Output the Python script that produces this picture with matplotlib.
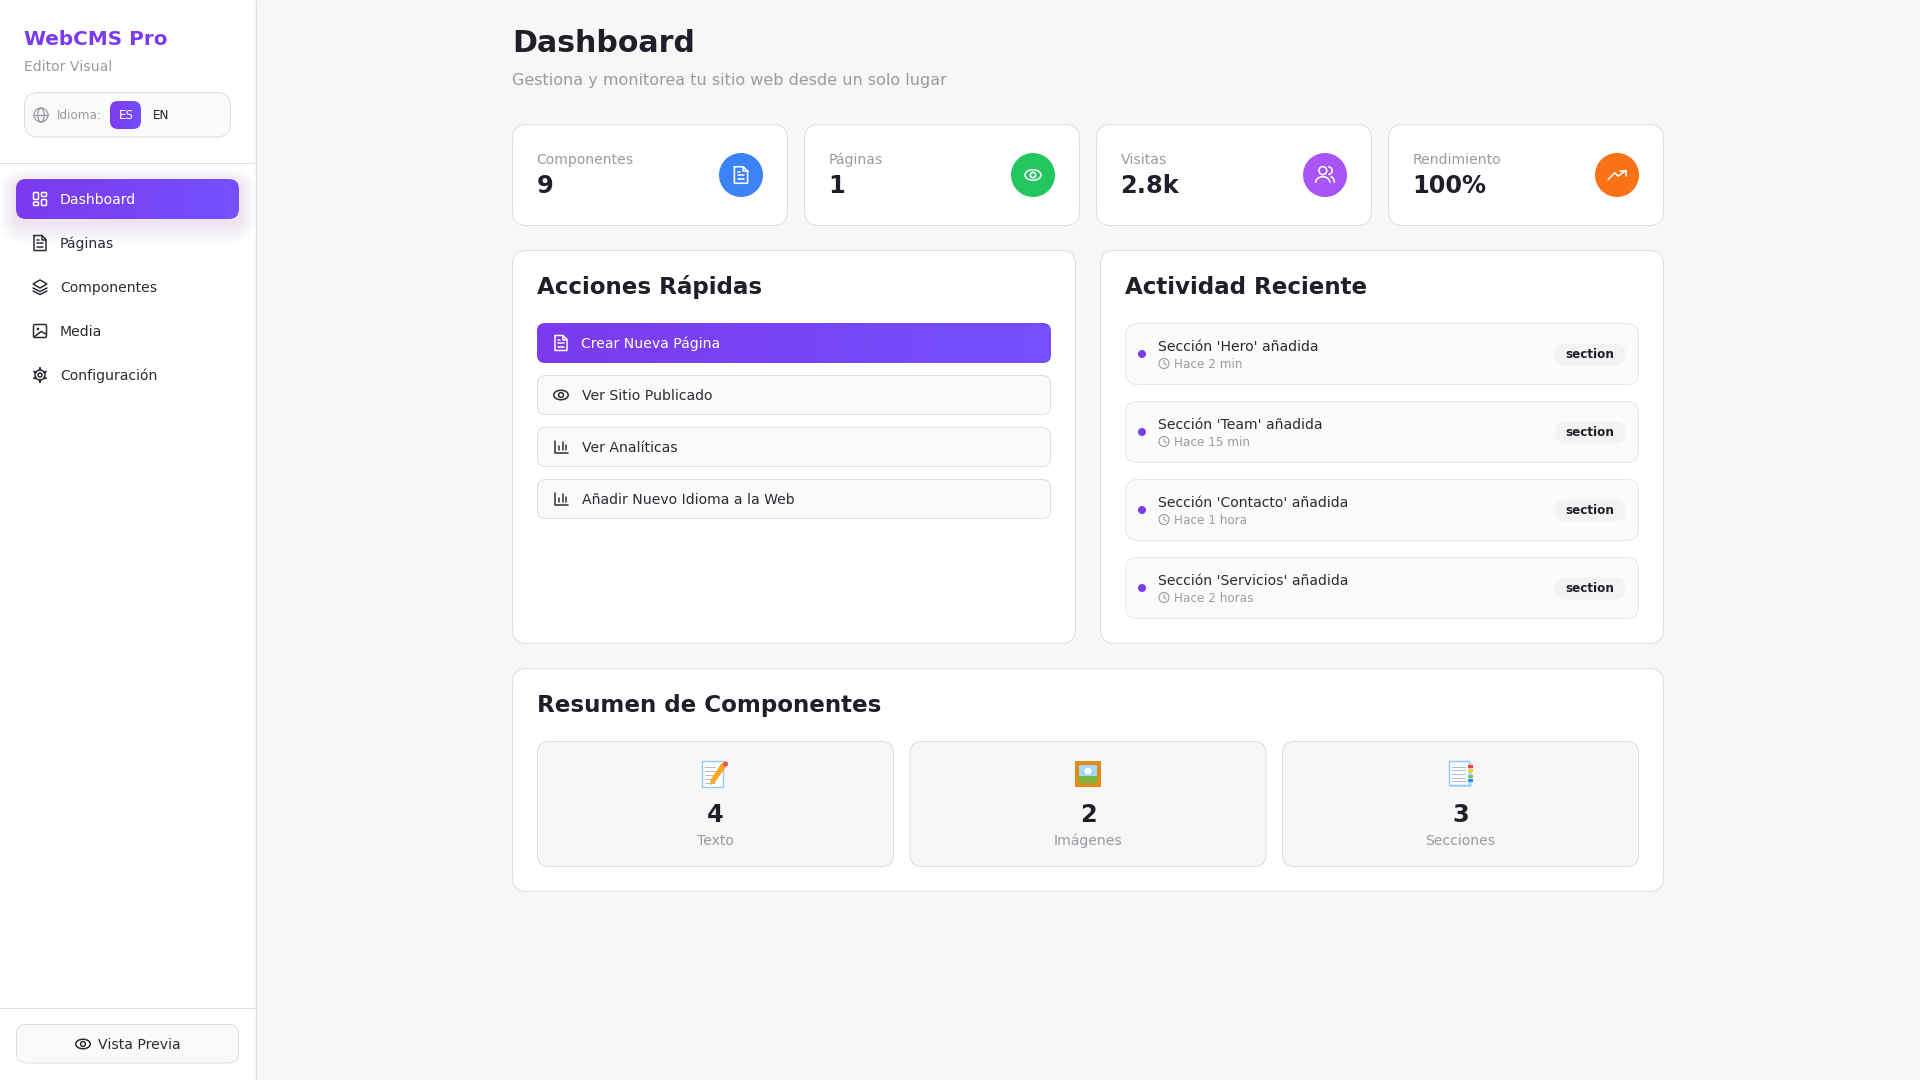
import numpy as np
from matplotlib import pyplot as plt
from matplotlib.patches import FancyBboxPatch, Circle, Ellipse, Rectangle, Polygon, Arc
from matplotlib.colors import LinearSegmentedColormap

# texts and values of the page
brand = 'WebCMS Pro'
brand_sub = 'Editor Visual'
nav_labels = ['Dashboard', 'Páginas', 'Componentes', 'Media', 'Configuración']
nav_icons = ['grid', 'doc', 'layers', 'image', 'gear']
stat_labels = ['Componentes', 'Páginas', 'Visitas', 'Rendimiento']
stat_values = ['9', '1', '2.8k', '100%']
stat_colors = ['#3b82f6', '#22c55e', '#a855f7', '#f97316']
stat_icons = ['doc', 'eye', 'users', 'trend']
action_labels = ['Crear Nueva Página', 'Ver Sitio Publicado', 'Ver Analíticas', 'Añadir Nuevo Idioma a la Web']
action_icons = ['doc', 'eye', 'bars', 'bars']
activity_titles = ["Sección 'Hero' añadida", "Sección 'Team' añadida", "Sección 'Contacto' añadida", "Sección 'Servicios' añadida"]
activity_times = ['Hace 2 min', 'Hace 15 min', 'Hace 1 hora', 'Hace 2 horas']
summary_values = ['4', '2', '3']
summary_labels = ['Texto', 'Imágenes', 'Secciones']

PURPLE = '#7c3aed'
DARK = '#1f1f29'
GREY = '#9a9aa3'
BORDER = '#dedee1'
PAGE = '#f7f7f8'

fig = plt.figure(figsize=(19.2, 10.8), dpi=100, facecolor=PAGE)
ax = fig.add_axes([0, 0, 1, 1])
ax.set_xlim(0, 1920)
ax.set_ylim(1080, 0)
ax.axis('off')

gradient = LinearSegmentedColormap.from_list('btn', ['#7c3aed', '#7350ff'])


def txt(x, y, s, px, color=DARK, weight='normal', ha='left', z=5):
    # y is the visual middle of the lowercase letters
    ax.text(x, y + 0.36 * px, s, fontsize=px * 0.72, color=color, fontweight=weight,
            ha=ha, va='baseline', family='DejaVu Sans', zorder=z)


def box(x0, y0, x1, y1, r, face='white', edge=BORDER, lw=1.0, z=1, alpha=None):
    p = FancyBboxPatch((x0, y0), x1 - x0, y1 - y0, boxstyle=f'round,pad=0,rounding_size={r}',
                       facecolor=face, edgecolor=edge, linewidth=lw * 0.72, zorder=z, alpha=alpha)
    ax.add_patch(p)
    return p


def grad_box(x0, y0, x1, y1, r, z=2):
    p = box(x0, y0, x1, y1, r, face='none', edge='none', lw=0, z=z)
    im = ax.imshow(np.linspace(0, 1, 256).reshape(1, -1), extent=(x0, x1, y1, y0), cmap=gradient,
                   aspect='auto', zorder=z)
    im.set_clip_path(p)
    ax.set_xlim(0, 1920)
    ax.set_ylim(1080, 0)


def seg(xs, ys, c, lw=1.5, z=6):
    ax.plot(xs, ys, color=c, linewidth=lw * 0.72, solid_capstyle='round', solid_joinstyle='round', zorder=z)


def icon(name, cx, cy, c, s=1.0, lw=1.5, z=6):
    # line icons, all about 16px wide at s=1
    if name == 'doc':
        seg([cx - 6 * s, cx + 2 * s, cx + 6 * s, cx + 6 * s, cx - 6 * s, cx - 6 * s],
            [cy - 7.5 * s, cy - 7.5 * s, cy - 3.5 * s, cy + 7.5 * s, cy + 7.5 * s, cy - 7.5 * s], c, lw, z)
        seg([cx + 2 * s, cx + 2 * s, cx + 6 * s], [cy - 7.5 * s, cy - 3.5 * s, cy - 3.5 * s], c, lw, z)
        seg([cx - 3 * s, cx + 3 * s], [cy, cy], c, lw, z)
        seg([cx - 3 * s, cx + 3 * s], [cy + 3.5 * s, cy + 3.5 * s], c, lw, z)
        seg([cx - 3 * s, cx - 1 * s], [cy - 3 * s, cy - 3 * s], c, lw, z)
    elif name == 'eye':
        ax.add_patch(Ellipse((cx, cy), 14.5 * s, 9.5 * s, fill=False, edgecolor=c, linewidth=lw * 0.72, zorder=z))
        ax.add_patch(Circle((cx, cy), 2.4 * s, fill=False, edgecolor=c, linewidth=lw * 0.72, zorder=z))
    elif name == 'users':
        ax.add_patch(Circle((cx - 2 * s, cy - 4 * s), 3.6 * s, fill=False, edgecolor=c, linewidth=lw * 0.72, zorder=z))
        ax.add_patch(Arc((cx - 2 * s, cy + 7 * s), 13 * s, 11 * s, theta1=180, theta2=360, edgecolor=c, linewidth=lw * 0.72, zorder=z))
        ax.add_patch(Arc((cx + 3 * s, cy - 4 * s), 7 * s, 7 * s, theta1=270, theta2=90, edgecolor=c, linewidth=lw * 0.72, zorder=z))
        ax.add_patch(Arc((cx + 5 * s, cy + 7 * s), 7 * s, 11 * s, theta1=270, theta2=360, edgecolor=c, linewidth=lw * 0.72, zorder=z))
    elif name == 'trend':
        seg([cx - 8 * s, cx - 2 * s, cx + 1 * s, cx + 8 * s], [cy + 4 * s, cy - 2 * s, cy + 1 * s, cy - 4 * s], c, lw, z)
        seg([cx + 3 * s, cx + 8 * s, cx + 8 * s], [cy - 4 * s, cy - 4 * s, cy + 1 * s], c, lw, z)
    elif name == 'grid':
        for x0, y0, w, h in [(-6.5, -6.5, 5, 7), (1.5, -6.5, 5, 4), (1.5, 0.5, 5, 6), (-6.5, 3, 5, 3.5)]:
            box(cx + x0 * s, cy + y0 * s, cx + (x0 + w) * s, cy + (y0 + h) * s, 1, face='none', edge=c, lw=lw, z=z)
    elif name == 'layers':
        ax.add_patch(Polygon([(cx - 7, cy - 3), (cx, cy - 7), (cx + 7, cy - 3), (cx, cy + 1)], closed=True,
                             fill=False, edgecolor=c, linewidth=lw * 0.72, zorder=z))
        seg([cx - 7, cx, cx + 7], [cy + 1, cy + 4.5, cy + 1], c, lw, z)
        seg([cx - 7, cx, cx + 7], [cy + 4, cy + 7.5, cy + 4], c, lw, z)
    elif name == 'image':
        box(cx - 6.5, cy - 6.5, cx + 6.5, cy + 6.5, 1.5, face='none', edge=c, lw=lw, z=z)
        ax.add_patch(Circle((cx - 2, cy - 2), 1.3, facecolor=c, edgecolor='none', zorder=z))
        seg([cx - 6, cx + 1, cx + 6], [cy + 6, cy + 0.5, cy + 3], c, lw, z)
    elif name == 'gear':
        ax.add_patch(Circle((cx, cy), 2, fill=False, edgecolor=c, linewidth=lw * 0.72, zorder=z))
        ax.add_patch(Circle((cx, cy), 5, fill=False, edgecolor=c, linewidth=lw * 0.72, zorder=z))
        for a in np.radians(np.arange(30, 390, 60)):
            seg([cx + 5 * np.cos(a), cx + 6.6 * np.cos(a)], [cy + 5 * np.sin(a), cy + 6.6 * np.sin(a)], c, 2.2, z)
    elif name == 'bars':
        seg([cx - 6, cx - 6, cx + 7], [cy - 6, cy + 6, cy + 6], c, lw, z)
        seg([cx - 2, cx - 2], [cy + 3, cy - 1], c, lw, z)
        seg([cx + 1.5, cx + 1.5], [cy + 3, cy - 5], c, lw, z)
        seg([cx + 5, cx + 5], [cy + 3, cy - 2], c, lw, z)
    elif name == 'globe':
        ax.add_patch(Circle((cx, cy), 7, fill=False, edgecolor=c, linewidth=lw * 0.72, zorder=z))
        ax.add_patch(Ellipse((cx, cy), 6.5, 14, fill=False, edgecolor=c, linewidth=lw * 0.72, zorder=z))
        seg([cx - 7, cx + 7], [cy, cy], c, lw, z)
    elif name == 'clock':
        ax.add_patch(Circle((cx, cy), 5, fill=False, edgecolor=c, linewidth=lw * 0.72, zorder=z))
        seg([cx, cx, cx + 2.5], [cy - 3, cy, cy + 1.5], c, lw, z)


# sidebar
ax.add_patch(Rectangle((0, 0), 255, 1080, facecolor='white', edgecolor='none', zorder=0.5))
seg([255.5, 255.5], [0, 1080], BORDER, 1.0, 1)
txt(24, 38, brand, 20, color=PURPLE, weight='bold')
txt(24, 66, brand_sub, 14, color=GREY)
box(24.5, 92.5, 230.5, 137, 14, face='#fafafa')
icon('globe', 41, 115, GREY, lw=1.3)
txt(57, 115, 'Idioma:', 12, color=GREY)
grad_box(110, 101, 141, 129, 8)
txt(126, 115, 'ES', 12, color='white', ha='center')
txt(161.5, 115, 'EN', 12, ha='center')
seg([0, 255], [162.5, 162.5], BORDER, 1.0, 1)

for i in range(14, 0, -1):
    box(16 - i * 1.2, 179 + 4 - i, 239 + i * 1.2, 219 + 4 + i * 1.4, 10 + i, face=PURPLE, edge='none', lw=0, z=1, alpha=0.009)
grad_box(16, 179, 239, 219, 10)
for i, label in enumerate(nav_labels):
    y = 199 + 44 * i
    c = 'white' if i == 0 else '#2b2b33'
    icon(nav_icons[i], 40, y, c)
    txt(60, y, label, 14, color=c)

seg([0, 255], [1007.5, 1007.5], BORDER, 1.0, 1)
box(16.5, 1024.5, 238.5, 1063, 10, face='#fafafa')
icon('eye', 83, 1044, '#2b2b33')
txt(98, 1044, 'Vista Previa', 14, color='#2b2b33')

# header
txt(512, 41, 'Dashboard', 30, weight='bold')
txt(512, 79, 'Gestiona y monitorea tu sitio web desde un solo lugar', 16, color=GREY)

# stat cards
for i, label in enumerate(stat_labels):
    x0 = 512.5 + 292 * i
    box(x0, 124.5, x0 + 275, 225.5, 14)
    txt(x0 + 24, 159, label, 14, color=GREY)
    txt(x0 + 24, 184, stat_values[i], 24, weight='bold')
    ax.add_patch(Circle((x0 + 228.5, 175), 22, facecolor=stat_colors[i], edgecolor='none', zorder=3))
    icon(stat_icons[i], x0 + 228.5, 175, 'white', s=1.1, lw=1.6)

# quick actions
box(512.5, 250.5, 1075.5, 643.5, 14)
txt(537, 286, 'Acciones Rápidas', 23, weight='bold')
for i, label in enumerate(action_labels):
    y0 = 323 + 52 * i
    if i == 0:
        grad_box(537, y0, 1051, y0 + 40, 8)
        c = 'white'
    else:
        box(537.5, y0 + 0.5, 1050.5, y0 + 39.5, 8, face='#fafafa')
        c = '#2b2b33'
    icon(action_icons[i], 561, y0 + 20, c)
    txt(581 if i == 0 else 582, y0 + 20, label, 14, color=c)

# recent activity
box(1100.5, 250.5, 1663.5, 643.5, 14)
txt(1125, 286, 'Actividad Reciente', 23, weight='bold')
for i, title in enumerate(activity_titles):
    y0 = 323.5 + 78 * i
    box(1125.5, y0, 1638.5, y0 + 61, 12, face='#fbfbfb', edge='#e8e8ea')
    ax.add_patch(Circle((1142, y0 + 30.5), 4, facecolor=PURPLE, edgecolor='none', zorder=3))
    txt(1158, y0 + 22, title, 14, color='#2b2b33')
    icon('clock', 1164, y0 + 40, GREY, lw=1.1)
    txt(1174, y0 + 40, activity_times[i], 12, color=GREY)
    box(1555, y0 + 20, 1626, y0 + 42, 11, face='#f3f3f4', edge='none', lw=0, z=2)
    txt(1590, y0 + 30.5, 'section', 12, weight='bold', ha='center')

# components summary
box(512.5, 668.5, 1663.5, 891.5, 14)
txt(537, 704, 'Resumen de Componentes', 23, weight='bold')
for i, label in enumerate(summary_labels):
    x0 = 537.5 + 372.5 * i
    box(x0, 741.5, x0 + 356, 866.5, 12, face='#f7f7f8')
    cx = x0 + 178
    txt(cx, 813, summary_values[i], 24, weight='bold', ha='center')
    txt(cx, 840, label, 14, color=GREY, ha='center')

# emoji glyphs over the summary boxes
cx = 537.5 + 178
ax.add_patch(Rectangle((cx - 14, 761), 21, 26, facecolor='white', edgecolor='#90caf9', linewidth=1, zorder=3))
for yy in [767, 771, 775, 779, 783]:
    seg([cx - 11, cx - 1], [yy, yy], '#b8bcc4', 1, 4)
ax.add_patch(Polygon([(cx + 6, 763), (cx + 11, 766), (cx - 1, 783), (cx - 5, 785), (cx - 5, 780)], closed=True,
                     facecolor='#f9a825', edgecolor='none', zorder=4))
ax.add_patch(Circle((cx + 10, 764), 2.6, facecolor='#ef5350', edgecolor='none', zorder=5))

cx = 537.5 + 372.5 + 178
ax.add_patch(Rectangle((cx - 13, 761), 26, 26, facecolor='#e08a1e', edgecolor='none', zorder=3))
ax.add_patch(Rectangle((cx - 9, 765), 18, 18, facecolor='#a5d8f3', edgecolor='none', zorder=4))
ax.add_patch(Rectangle((cx - 9, 776), 18, 7, facecolor='#7cb342', edgecolor='none', zorder=5))
ax.add_patch(Circle((cx, 771), 3.5, facecolor='white', edgecolor='none', zorder=5))

cx = 537.5 + 745 + 178
ax.add_patch(Rectangle((cx - 10, 763), 21, 24, facecolor='#bbdefb', edgecolor='none', zorder=3))
ax.add_patch(Rectangle((cx - 12, 761), 20, 24, facecolor='#f5fbff', edgecolor='#90caf9', linewidth=1, zorder=4))
for yy in [767, 770, 774, 778, 781]:
    seg([cx - 9, cx + 4], [yy, yy], '#b8bcc4', 1, 5)
for yy, col in zip([766, 770, 776, 780], ['#f44336', '#ffca28', '#8bc34a', '#2196f3']):
    ax.add_patch(Rectangle((cx + 7, yy - 1.5), 5, 3, facecolor=col, edgecolor='none', zorder=6))

fig.savefig('out.png', dpi=100, facecolor=PAGE)
